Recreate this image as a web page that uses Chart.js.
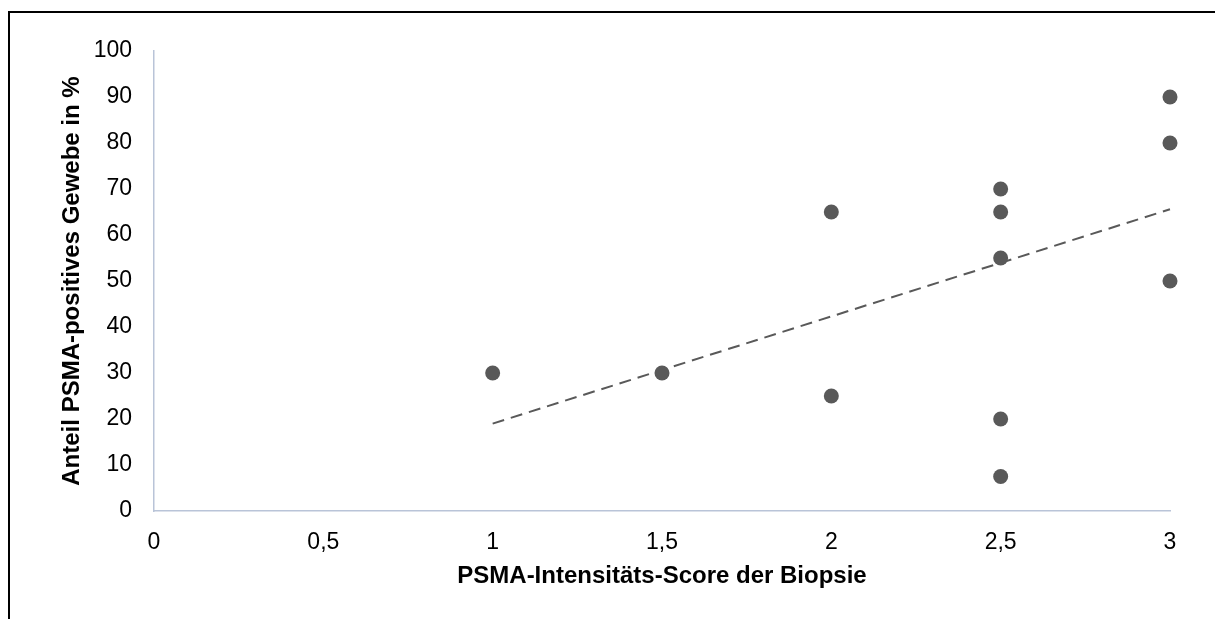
<!DOCTYPE html>
<html>
<head>
<meta charset="utf-8">
<script src="https://cdn.jsdelivr.net/npm/chart.js@4"></script>
<style>
    html, body { margin: 0; padding: 0; background: #fff; }
    #frame {
        position: absolute;
        left: 8px;
        top: 11px;
        width: 1207px;
        height: 608px;
        border-top: 2px solid #000;
        border-left: 2px solid #000;
    }
    #wrap { position: absolute; left: 0; top: 0; width: 1215px; height: 619px; }
</style>
</head>
<body>
<div id="frame"></div>
<div id="wrap"><canvas id="chartScatter" width="1215" height="619"></canvas></div>
<script>
// Intensity score (x) and PSMA-positive share in % (y)
const scoreValues = [1, 1.5, 2, 2, 2.5, 2.5, 2.5, 2.5, 2.5, 3, 3, 3];
const percentValues = [30, 30, 65, 25, 70, 65, 55, 20, 7.5, 90, 80, 50];

// Linear trend line
const trendX = [1, 3];
const trendY = [19.0, 65.6];

const xTickLabels = ['0', '0,5', '1', '1,5', '2', '2,5', '3'];
const yTickLabels = ['0', '10', '20', '30', '40', '50', '60', '70', '80', '90', '100'];

const xTitle = 'PSMA-Intensitäts-Score der Biopsie';
const yTitle = 'Anteil PSMA-positives Gewebe in %';

const markColor = '#595959';
const axisColor = '#B9C4D8';

document.addEventListener("DOMContentLoaded", () => {
    const points = scoreValues.map((x, i) => ({ x: x, y: percentValues[i] }));
    const trend = trendX.map((x, i) => ({ x: x, y: trendY[i] }));

    displayScatterChart('chartScatter', points, trend);
});

function displayScatterChart(canvasId, points, trend) {
    const ctx = document.getElementById(canvasId);
    new Chart(ctx, {
        type: 'scatter',
        data: {
            datasets: [
                {
                    label: 'Messwerte',
                    data: points,
                    backgroundColor: markColor,
                    borderColor: markColor,
                    borderWidth: 0,
                    pointRadius: 7.5,
                    pointHoverRadius: 7.5,
                    clip: false
                },
                {
                    type: 'line',
                    label: 'Trend',
                    data: trend,
                    borderColor: markColor,
                    borderWidth: 2,
                    borderDash: [12, 7],
                    pointRadius: 0,
                    fill: false,
                    clip: false
                }
            ]
        },
        options: {
            responsive: false,
            animation: false,
            events: [],
            layout: {
                padding: { top: 51, right: 45, bottom: 0, left: 0 }
            },
            plugins: {
                legend: { display: false },
                tooltip: { enabled: false }
            },
            scales: {
                x: {
                    type: 'linear',
                    min: 0,
                    max: 3,
                    afterFit: (scale) => { scale.height = 108; },
                    afterBuildTicks: (scale) => {
                        scale.ticks = xTickLabels.map((t, i) => ({ value: i * 0.5 }));
                    },
                    grid: { display: false, drawTicks: false },
                    border: { display: true, color: axisColor, width: 1.5 },
                    ticks: {
                        padding: 18,
                        color: '#000',
                        font: { family: 'Liberation Sans', size: 23 },
                        maxRotation: 0,
                        callback: (value, index) => xTickLabels[index]
                    },
                    title: {
                        display: true,
                        text: xTitle,
                        color: '#000',
                        font: { family: 'Liberation Sans', size: 24, weight: 'bold' },
                        padding: { top: 0, bottom: 28 }
                    }
                },
                y: {
                    min: 0,
                    max: 100,
                    afterFit: (scale) => { scale.width = 154; },
                    afterBuildTicks: (scale) => {
                        scale.ticks = yTickLabels.map((t, i) => ({ value: i * 10 }));
                    },
                    grid: { display: false, drawTicks: false },
                    border: { display: true, color: axisColor, width: 1.5 },
                    ticks: {
                        padding: 22,
                        color: '#000',
                        font: { family: 'Liberation Sans', size: 23 },
                        callback: (value, index) => yTickLabels[index]
                    },
                    title: {
                        display: true,
                        text: yTitle,
                        color: '#000',
                        font: { family: 'Liberation Sans', size: 24, weight: 'bold' },
                        padding: { top: 58, bottom: 0 }
                    }
                }
            }
        }
    });
}
</script>
</body>
</html>
